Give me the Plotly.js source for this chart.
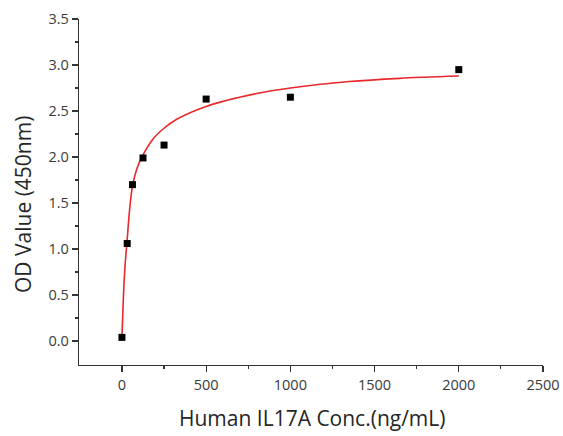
<!DOCTYPE html>
<html>
<head>
<meta charset="utf-8">
<script src="https://cdn.plot.ly/plotly-3.0.1.min.js"></script>
<style>html,body{margin:0;padding:0;background:#fff;}#chart{width:563px;height:436px;}</style>
</head>
<body>
<div id="chart"></div>
<script>
// Measured standards
var concentrations = [0, 31.25, 62.5, 125, 250, 500, 1000, 2000];
var odValues = [0.04, 1.06, 1.70, 1.99, 2.13, 2.63, 2.65, 2.95];

// Fitted curve
var fitConc = [0, 5, 12, 20, 31, 45, 62, 90, 121, 186, 248, 325, 500, 800, 1000, 1350, 1650, 2000];
var fitOD = [0.04, 0.30, 0.62, 0.86, 1.10, 1.42, 1.68, 1.88, 2.01, 2.20, 2.31, 2.41, 2.55, 2.69, 2.75, 2.82, 2.855, 2.88];

var xTitle = 'Human IL17A Conc.(ng/mL)';
var yTitle = 'OD Value (450nm)';

var traces = [
  {x: fitConc, y: fitOD, mode: 'lines', type: 'scatter',
   line: {color: '#e8282b', width: 1.6, shape: 'spline', smoothing: 0.8}, hoverinfo: 'skip'},
  {x: concentrations, y: odValues, mode: 'markers', type: 'scatter',
   marker: {symbol: 'square', size: 7, color: '#000'}}
];

var tickFont = {family: 'Open Sans, sans-serif', size: 14.5, color: '#3a3a3a'};
var titleFont = {family: 'Open Sans, sans-serif', size: 21, color: '#262626'};
var layout = {
  width: 563, height: 436,
  margin: {l: 79, r: 20, t: 19, b: 71},
  showlegend: false,
  paper_bgcolor: '#fff', plot_bgcolor: '#fff',
  xaxis: {
    range: [-255, 2500], tickvals: [0, 500, 1000, 1500, 2000, 2500],
    showgrid: false, zeroline: false, showline: true, linecolor: '#333', linewidth: 1.2,
    ticks: 'outside', ticklen: 6, tickcolor: '#333', tickwidth: 1.2,
    minor: {tickvals: [250, 750, 1250, 1750, 2250], ticks: 'outside', ticklen: 3, tickcolor: '#333', tickwidth: 1.2},
    tickfont: tickFont
  },
  yaxis: {
    range: [-0.26, 3.5], tickvals: [0, 0.5, 1, 1.5, 2, 2.5, 3, 3.5],
    ticktext: ['0.0', '0.5', '1.0', '1.5', '2.0', '2.5', '3.0', '3.5'],
    showgrid: false, zeroline: false, showline: true, linecolor: '#333', linewidth: 1.2,
    ticks: 'outside', ticklen: 6, tickcolor: '#333', tickwidth: 1.2,
    minor: {tickvals: [0.25, 0.75, 1.25, 1.75, 2.25, 2.75, 3.25], ticks: 'outside', ticklen: 3, tickcolor: '#333', tickwidth: 1.2},
    tickfont: tickFont
  },
  annotations: [
    {text: xTitle, xref: 'paper', yref: 'paper', x: 0.502, y: -0.153, xanchor: 'center', yanchor: 'middle',
     showarrow: false, font: titleFont},
    {text: yTitle, xref: 'paper', yref: 'paper', x: -0.1207, y: 0.4653, xanchor: 'center', yanchor: 'middle',
     textangle: -90, showarrow: false, font: titleFont}
  ]
};
Plotly.newPlot('chart', traces, layout, {staticPlot: true});
</script>
</body>
</html>
